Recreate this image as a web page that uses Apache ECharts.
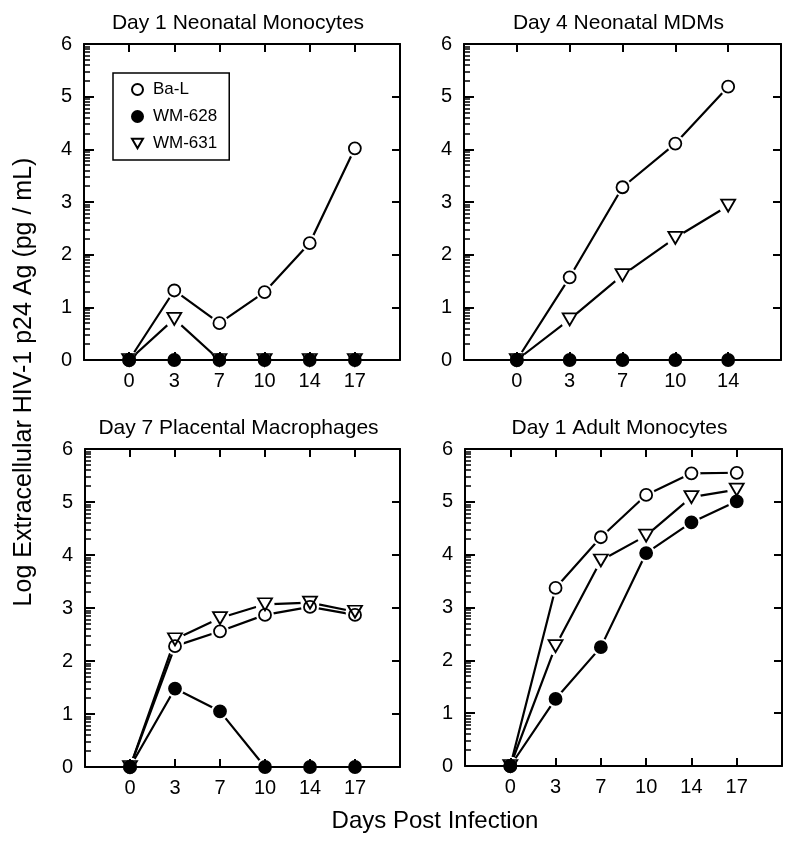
<!DOCTYPE html>
<html>
<head>
<meta charset="utf-8">
<script src="https://cdn.jsdelivr.net/npm/echarts@6/dist/echarts.min.js"></script>
<style>
html,body{margin:0;padding:0;background:#fff;}
#chart{width:800px;height:844px;}
</style>
</head>
<body>
<div id="chart"></div>
<script>
// ---- data ----
const panelTitles = ['Day 1 Neonatal Monocytes', 'Day 4 Neonatal MDMs', 'Day 7 Placental Macrophages', 'Day 1 Adult Monocytes'];
const seriesNames = ['Ba-L', 'WM-628', 'WM-631'];
const days1 = ['0', '3', '7', '10', '14', '17'];
const days2 = ['0', '3', '7', '10', '14'];
const days3 = ['0', '3', '7', '10', '14', '17'];
const days4 = ['0', '3', '7', '10', '14', '17'];

const p1BaL   = [0, 1.32, 0.70, 1.29, 2.22, 4.02];
const p1WM628 = [0, 0, 0, 0, 0, 0];
const p1WM631 = [0, 0.78, 0, 0, 0, 0];

const p2BaL   = [0, 1.57, 3.28, 4.11, 5.19];
const p2WM628 = [0, 0, 0, 0, 0];
const p2WM631 = [0, 0.77, 1.61, 2.32, 2.93];

const p3BaL   = [0, 2.28, 2.56, 2.87, 3.02, 2.87];
const p3WM628 = [0, 1.48, 1.05, 0, 0, 0];
const p3WM631 = [0, 2.41, 2.81, 3.07, 3.10, 2.93];

const p4BaL   = [0, 3.37, 4.33, 5.13, 5.54, 5.55];
const p4WM628 = [0, 1.27, 2.25, 4.03, 4.61, 5.01];
const p4WM631 = [0, 2.27, 3.89, 4.36, 5.09, 5.23];

const yTicks = [0, 1, 2, 3, 4, 5, 6];

// ---- layout / style ----
const FONT = 'Liberation Sans, Arial, Helvetica, sans-serif';
const panels = [
  {cats: days1, vals: [p1BaL, p1WM628, p1WM631], grid: {left: 84, top: 44, width: 316, height: 316}},
  {cats: days2, vals: [p2BaL, p2WM628, p2WM631], grid: {left: 464, top: 44, width: 317, height: 316}},
  {cats: days3, vals: [p3BaL, p3WM628, p3WM631], grid: {left: 85, top: 449, width: 315, height: 318}},
  {cats: days4, vals: [p4BaL, p4WM628, p4WM631], grid: {left: 465, top: 449, width: 317, height: 317}}
];
const TRI = 'path://M0,0 L12,0 L6,10.4 Z';
const markerDefs = [
  {symbol: 'circle', size: 12, fill: '#fff', z: 5},
  {symbol: 'circle', size: 12, fill: '#000', z: 6},
  {symbol: TRI, size: [14, 12], fill: 'rgba(255,255,255,0)', z: 7}
];
// log-style minor ticks inside each decade
const minorTicks = [];
for (let k = 0; k < 6; k++) for (let m = 2; m <= 9; m++) minorTicks.push(k + Math.log10(m));

const grids = [], xAxes = [], yAxes = [], series = [], graphics = [];
panels.forEach((p, i) => {
  grids.push(Object.assign({containLabel: false}, p.grid));
  const idx = p.cats.map((_, j) => j);
  const xb = xAxes.length;
  xAxes.push({
    gridIndex: i, type: 'value', min: -1, max: p.cats.length, position: 'bottom', z: 4,
    axisLine: {onZero: false, lineStyle: {color: '#000', width: 2}},
    axisTick: {inside: true, length: 8, customValues: idx, lineStyle: {color: '#000', width: 2}},
    axisLabel: {customValues: idx, formatter: v => p.cats[Math.round(v)], margin: 11, color: '#000', fontSize: 20, fontFamily: FONT},
    splitLine: {show: false}
  });
  xAxes.push({
    gridIndex: i, type: 'value', min: -1, max: p.cats.length, position: 'top',
    axisLine: {onZero: false, lineStyle: {color: '#000', width: 2}},
    axisTick: {inside: true, length: 8, customValues: idx, lineStyle: {color: '#000', width: 2}},
    axisLabel: {show: false}, splitLine: {show: false}
  });
  const yl = yAxes.length;
  yAxes.push({
    gridIndex: i, type: 'value', min: 0, max: 6, interval: 1, position: 'left',
    axisLine: {show: true, onZero: false, lineStyle: {color: '#000', width: 2}},
    axisTick: {show: true, inside: true, length: 10, lineStyle: {color: '#000', width: 2}},
    axisLabel: {margin: 12, color: '#000', fontSize: 20, fontFamily: FONT},
    splitLine: {show: false}
  });
  yAxes.push({
    gridIndex: i, type: 'value', min: 0, max: 6, position: 'left', offset: 0,
    axisLine: {show: false, onZero: false},
    axisTick: {show: true, inside: true, length: 6, customValues: minorTicks, lineStyle: {color: '#000', width: 1.5}},
    axisLabel: {show: false}, splitLine: {show: false}
  });
  yAxes.push({
    gridIndex: i, type: 'value', min: 0, max: 6, interval: 1, position: 'right',
    axisLine: {show: true, onZero: false, lineStyle: {color: '#000', width: 2}},
    axisTick: {show: true, inside: true, length: 8, customValues: yTicks, lineStyle: {color: '#000', width: 2}},
    axisLabel: {show: false}, splitLine: {show: false}
  });
  p.vals.forEach((arr, s) => {
    const data = arr.map((v, j) => [j, v]);
    const md = markerDefs[s];
    series.push({
      type: 'line', xAxisIndex: xb, yAxisIndex: yl, data: data, symbol: 'none', silent: true,
      lineStyle: {color: '#000', width: 2.2}, z: 2, animation: false
    });
    series.push({
      type: 'scatter', xAxisIndex: xb, yAxisIndex: yl, data: data, symbol: 'circle',
      symbolSize: Array.isArray(md.size) ? md.size[0] + 5 : md.size + 6, silent: true,
      itemStyle: {color: '#fff', opacity: 1}, z: 3, animation: false
    });
    series.push({
      name: seriesNames[s], type: 'scatter', xAxisIndex: xb, yAxisIndex: yl, data: data,
      symbol: md.symbol, symbolSize: md.size, symbolKeepAspect: false,
      itemStyle: {color: md.fill, borderColor: '#000', borderWidth: 1.8, opacity: 1},
      z: md.z, animation: false
    });
  });
  const g = p.grid;
  graphics.push({
    type: 'text', x: g.left + g.width / 2 - 4, y: g.top - 21,
    style: {text: panelTitles[i], font: '21px ' + FONT, fill: '#000', align: 'center', verticalAlign: 'middle'}
  });
});

graphics.push({
  type: 'text', x: 24, y: 382, rotation: Math.PI / 2,
  style: {text: 'Log Extracellular HIV-1 p24 Ag (pg / mL)', font: '25px ' + FONT, fill: '#000', align: 'center', verticalAlign: 'middle'}
});
graphics.push({
  type: 'text', x: 435, y: 821,
  style: {text: 'Days Post Infection', font: '24px ' + FONT, fill: '#000', align: 'center', verticalAlign: 'middle'}
});

const chart = echarts.init(document.getElementById('chart'), null, {renderer: 'canvas'});
chart.setOption({
  backgroundColor: '#fff',
  animation: false,
  grid: grids,
  xAxis: xAxes,
  yAxis: yAxes,
  legend: {
    orient: 'vertical', left: 113, top: 73,
    borderColor: '#000', borderWidth: 1.5, borderRadius: 0,
    padding: [8, 12, 8, 18], itemGap: 10, itemWidth: 11, itemHeight: 11,
    selectedMode: false,
    textStyle: {fontSize: 17, fontFamily: FONT, color: '#000', padding: [0, 0, 0, 5]},
    data: seriesNames
  },
  graphic: graphics,
  series: series
});
</script>
</body>
</html>
